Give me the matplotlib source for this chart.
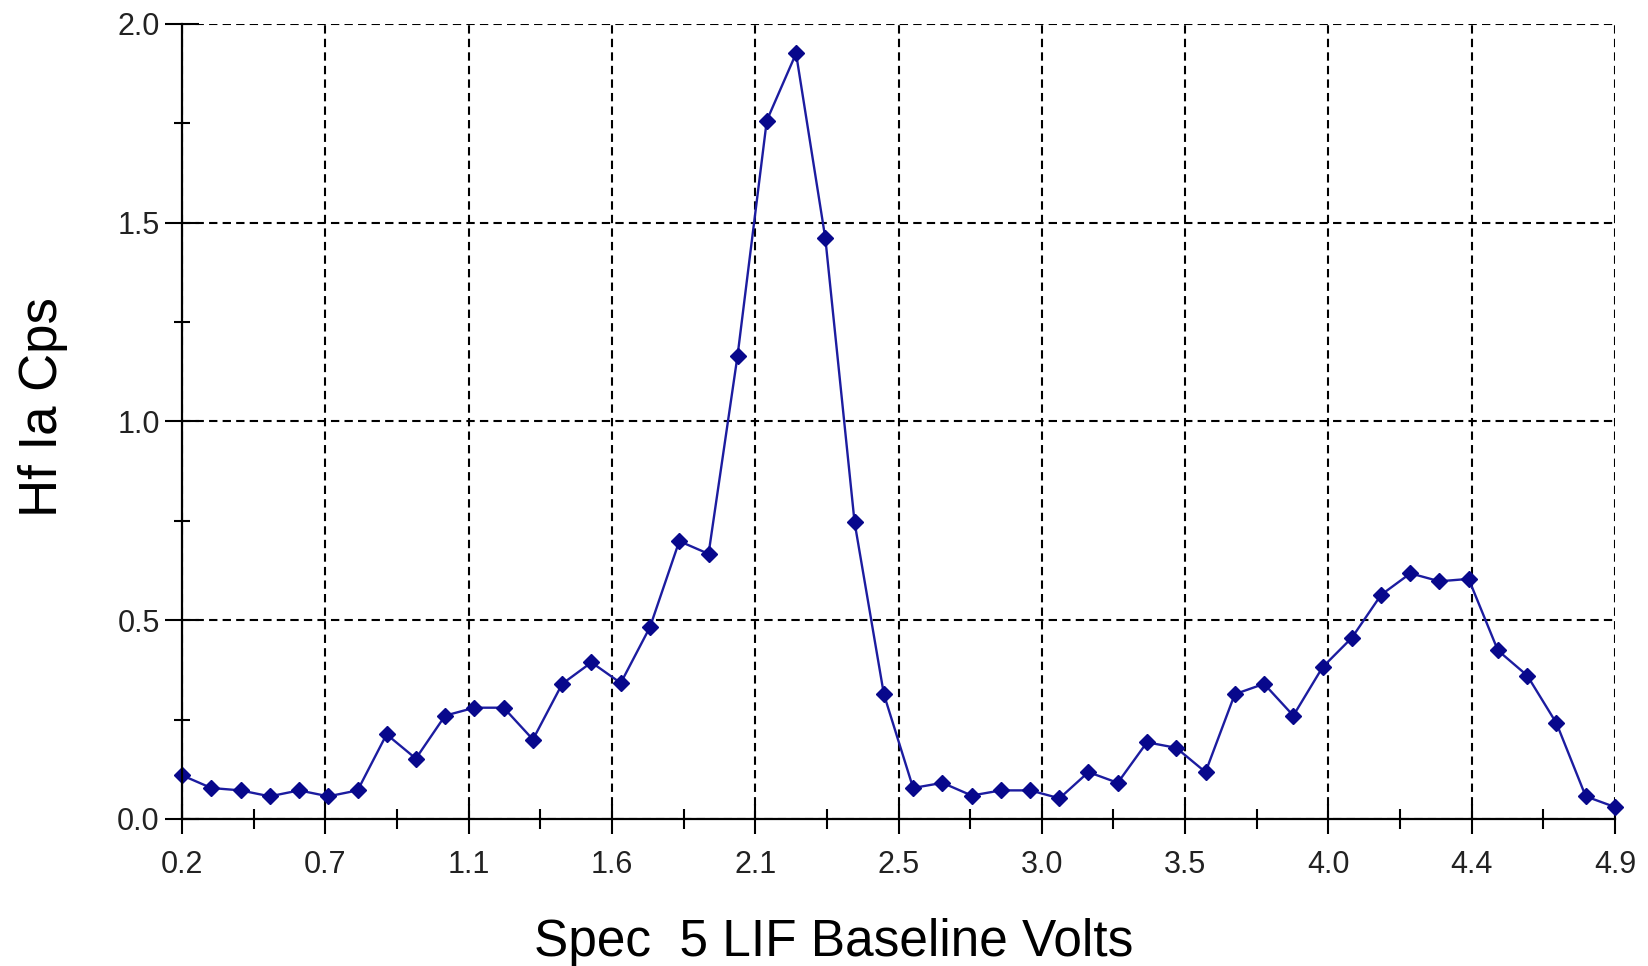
import numpy as np
import matplotlib
matplotlib.use("Agg")
import matplotlib.pyplot as plt
from matplotlib.ticker import FixedLocator, FuncFormatter

plt.rcParams['font.family'] = ['Liberation Sans', 'DejaVu Sans']

# scan points: baseline volts vs Hf Ia count rate
volts = [0.200, 0.296, 0.392, 0.488, 0.584, 0.680, 0.776, 0.871, 0.967, 1.063,
         1.159, 1.255, 1.351, 1.447, 1.543, 1.639, 1.735, 1.831, 1.927, 2.022,
         2.118, 2.214, 2.310, 2.406, 2.502, 2.598, 2.694, 2.790, 2.886, 2.982,
         3.078, 3.173, 3.269, 3.365, 3.461, 3.557, 3.653, 3.749, 3.845, 3.941,
         4.037, 4.133, 4.229, 4.324, 4.420, 4.516, 4.612, 4.708, 4.804, 4.900]
cps = [0.110, 0.078, 0.072, 0.057, 0.072, 0.057, 0.072, 0.213, 0.152, 0.260,
       0.280, 0.280, 0.200, 0.340, 0.394, 0.342, 0.483, 0.699, 0.667, 1.165,
       1.757, 1.926, 1.461, 0.746, 0.314, 0.078, 0.091, 0.059, 0.072, 0.072,
       0.052, 0.118, 0.091, 0.193, 0.179, 0.118, 0.314, 0.340, 0.260, 0.382,
       0.456, 0.564, 0.618, 0.598, 0.604, 0.424, 0.361, 0.241, 0.057, 0.030]

x_ticks = [0.20, 0.67, 1.14, 1.61, 2.08, 2.55, 3.02, 3.49, 3.96, 4.43, 4.90]
x_tick_labels = ["0.2", "0.7", "1.1", "1.6", "2.1", "2.5", "3.0", "3.5", "4.0", "4.4", "4.9"]
y_ticks = [0.0, 0.5, 1.0, 1.5, 2.0]

fig = plt.figure(figsize=(16.48, 9.66), dpi=100)
ax = fig.add_axes([182 / 1648, 1 - 819 / 966, (1615 - 182) / 1648, (819 - 24) / 966])

ax.plot(volts, cps, color='#1c1ca0', lw=1.7, marker='D', ms=8.5,
        mfc='#08088c', mec='#08088c', clip_on=False, zorder=5)

ax.set_xlim(0.2, 4.9)
ax.set_ylim(0.0, 2.0)

ax.xaxis.set_major_locator(FixedLocator(x_ticks))
ax.set_xticklabels(x_tick_labels)
minor_x = [(a + b) / 2 for a, b in zip(x_ticks[:-1], x_ticks[1:])]
ax.xaxis.set_minor_locator(FixedLocator(minor_x))
ax.yaxis.set_major_locator(FixedLocator(y_ticks))
ax.yaxis.set_major_formatter(FuncFormatter(lambda v, p: f"{v:.1f}"))
ax.yaxis.set_minor_locator(FixedLocator([0.25, 0.75, 1.25, 1.75]))

for s in ['top', 'right']:
    ax.spines[s].set_visible(False)
for s in ['left', 'bottom']:
    ax.spines[s].set_linewidth(1.6)
    ax.spines[s].set_zorder(6)

ax.tick_params(axis='x', which='major', direction='inout', length=21, width=1.5,
               pad=12, labelsize=22, labelcolor='#222222')
ax.tick_params(axis='x', which='minor', direction='inout', length=14, width=1.5)
ax.tick_params(axis='y', which='major', direction='inout', length=24, width=1.5,
               pad=4, labelsize=22, labelcolor='#222222')
ax.tick_params(axis='y', which='minor', direction='inout', length=12, width=1.5)

ax.grid(True, which='major', color='black', lw=1.5, linestyle=(0, (4, 2.5)), zorder=0)
ax.set_axisbelow(True)

fig.text(834 / 1648, 10 / 966, "Spec  5 LIF Baseline Volts", fontsize=37,
         ha='center', va='baseline')
fig.text(43 / 1648, 1 - 407 / 966, "Hf Ia Cps", fontsize=38, rotation=90,
         ha='center', va='center')

fig.savefig("out.png", dpi=100, facecolor='white')
